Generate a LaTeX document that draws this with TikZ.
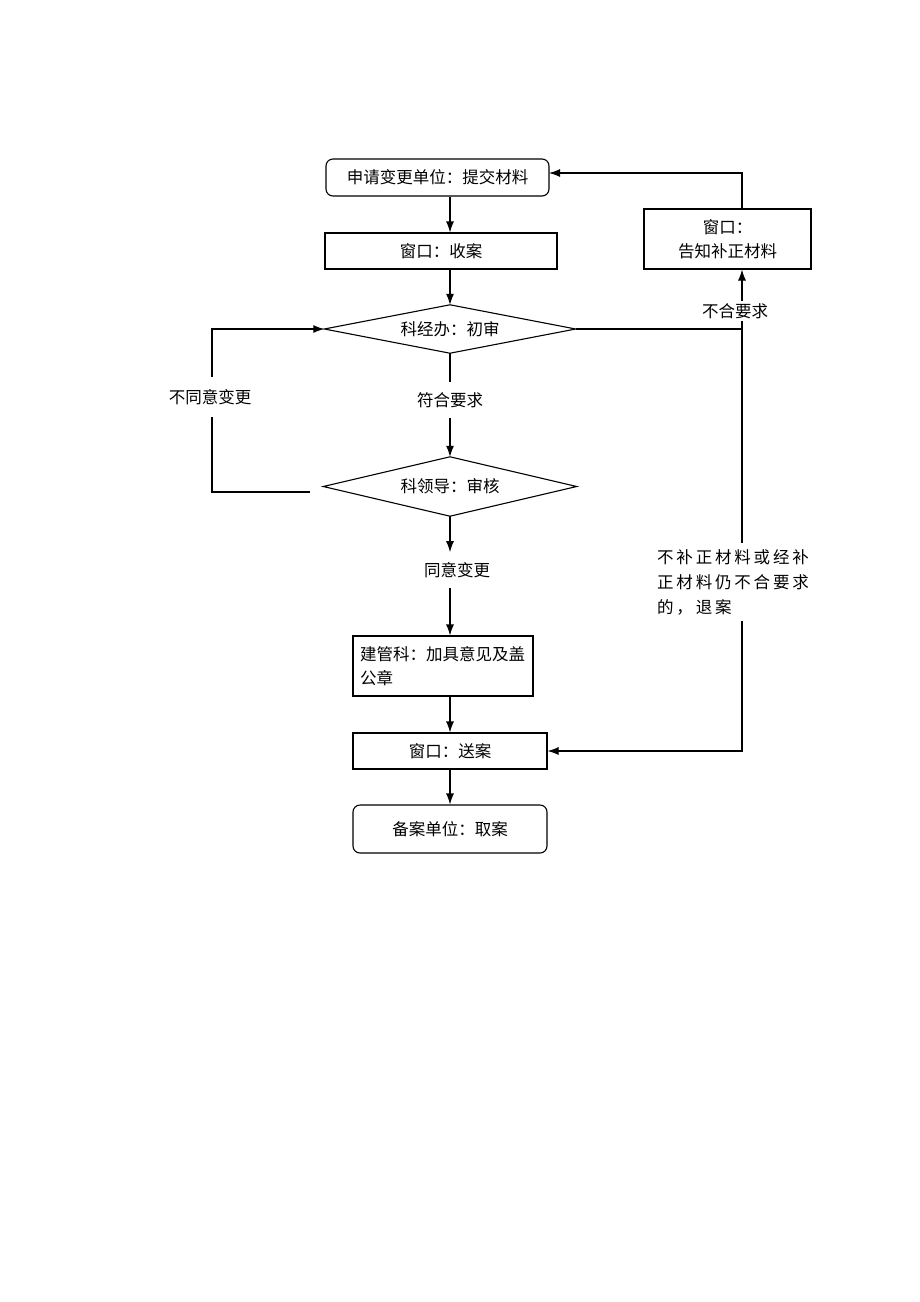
\documentclass[tikz,border=0pt]{standalone}
\usepackage{fontspec}
\newfontfamily\cjk{Noto Sans CJK SC}
\newfontfamily\cjkls{Noto Sans CJK SC}[LetterSpace=17]
\usetikzlibrary{arrows.meta}
\begin{document}
\begin{tikzpicture}[x=1pt,y=-1pt,
  every node/.style={font=\cjk\fontsize{16.5}{24}\selectfont, inner sep=0pt},
  box/.style={draw, line width=1.1pt, minimum width=#1},
  rbox/.style={draw, line width=1.1pt, rounded corners=7pt, minimum width=#1},
  lbl/.style={inner xsep=3pt, inner ysep=10pt},
  arr/.style={line width=1.1pt, -{Latex[length=11pt,width=8pt]}},
  ln/.style={line width=1.1pt}]
\useasboundingbox (0,0) rectangle (920,1302);
\fill[white] (0,0) rectangle (920,1302);

\node[rbox=223, minimum height=37] (b1) at (437.5,177.5) {申请变更单位：提交材料};
\node[box=232, minimum height=36] (b2) at (441,251) {窗口：收案};
\node[minimum width=251, minimum height=48] (d1) at (450,329) {科经办：初审};
\draw[ln] (d1.west) -- (d1.north) -- (d1.east) -- (d1.south) -- cycle;
\node[minimum width=253, minimum height=59] (d2) at (450,486.5) {科领导：审核};
\draw[ln] (d2.west) -- (d2.north) -- (d2.east) -- (d2.south) -- cycle;
\node[box=180, minimum height=60, align=left, text width=166] (b3) at (443,666) {建管科：加具意见及盖\\公章};
\node[box=194, minimum height=36] (b4) at (450,751) {窗口：送案};
\node[rbox=194, minimum height=48] (b5) at (450,829) {备案单位：取案};
\node[box=167, minimum height=60, align=center] (b6) at (727.5,239) {窗口：\\告知补正材料};

\node[lbl] (fuhe) at (450,400) {符合要求};
\node[lbl] (tongyi) at (457,570) {同意变更};
\node[lbl, inner ysep=12pt] (butongyi) at (210,397) {不同意变更};
\node[inner sep=2pt] (buhe) at (735,311) {不合要求};
\node[anchor=west, align=left, inner xsep=4pt, inner ysep=6pt, font=\cjkls\fontsize{16.5}{25}\selectfont] (tuian) at (653,582) {不补正材料或经补\\正材料仍不合要求\\的，退案};

\coordinate (xc) at (450,0);
\coordinate (xr) at (742,0);
\coordinate (e1) at (549,173);

\draw[arr] (b1.south -| xc) -- (b2.north -| xc);
\draw[arr] (b2.south -| xc) -- (d1.north);
\draw[ln] (d1.south) -- (fuhe.north -| xc);
\draw[arr] (fuhe.south -| xc) -- (d2.north);
\draw[arr] (d2.south) -- (tongyi.north -| xc);
\draw[arr] (tongyi.south -| xc) -- (b3.north -| xc);
\draw[arr] (b3.south -| xc) -- (b4.north -| xc);
\draw[arr] (b4.south -| xc) -- (b5.north -| xc);

\coordinate (lstart) at (310,492);
\draw[ln] (lstart) -| (butongyi.south -| 212,0);
\draw[arr] (butongyi.north -| 212,0) |- (d1.west);

\coordinate (j1) at (d1.east -| xr);
\draw[ln] (d1.east) -- (j1);
\draw[ln] (j1) -- (buhe.south -| xr);
\draw[arr] (buhe.north -| xr) -- (b6.south -| xr);
\draw[arr] (b6.north -| xr) |- (e1);
\draw[ln] (j1) -- (tuian.north -| xr);
\draw[arr] (tuian.south -| xr) |- (b4.east);
\end{tikzpicture}
\end{document}
